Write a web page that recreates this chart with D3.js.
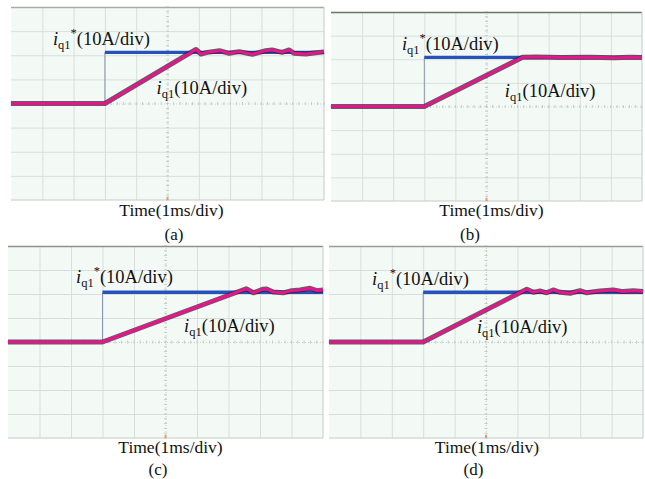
<!DOCTYPE html>
<html>
<head>
<meta charset="utf-8">
<script src="https://cdn.jsdelivr.net/npm/d3@7"></script>
<style>
  body { margin: 0; background: #fff; }
  svg text { font-family: "Liberation Serif", "Times New Roman", serif; fill: #111; }
</style>
</head>
<body>
<div id="chart"></div>
<script>
// scope screen: 10 x 8 divisions, 1 ms/div, 10 A/div (centre line = 0)
var captions = ["(a)", "(b)", "(c)", "(d)"];
var stepTimes = [3.0, 3.0, 3.0, 3.0];      // ms
var refLevels = [2.12, 2.08, 2.07, 2.07];   // div

var traceA = [[0, 0], [3.0, 0], [5.91, 2.24], [6.07, 2.05], [6.27, 2.12], [6.66, 2.19], [6.97, 2.08],
  [7.29, 2.15], [7.71, 2.04], [8.14, 2.19], [8.34, 2.22], [8.66, 2.12], [8.89, 2.22], [9.04, 2.08],
  [9.42, 2.05], [9.74, 2.10], [10, 2.14]];
var traceB = [[0, 0], [3.0, 0], [6.16, 2.08], [6.6, 2.09], [7.4, 2.07], [8.3, 2.08], [9.1, 2.06],
  [9.6, 2.08], [10, 2.07]];
var traceC = [[0, 0], [3.0, 0], [7.56, 2.22], [7.79, 2.05], [8.10, 2.20], [8.21, 2.21], [8.42, 2.08],
  [8.74, 2.05], [9.01, 2.14], [9.27, 2.17], [9.59, 2.24], [9.80, 2.14], [10, 2.17]];
var traceD = [[0, 0], [3.0, 0], [6.30, 2.20], [6.51, 2.07], [6.72, 2.13], [6.93, 2.05], [7.14, 2.17],
  [7.36, 2.07], [7.68, 2.03], [7.99, 2.14], [8.21, 2.05], [8.63, 2.13], [9.05, 2.17], [9.37, 2.10],
  [9.69, 2.14], [10, 2.10]];
var traces = [traceA, traceB, traceC, traceD];

// label anchors (time ms, div)
var refLabelPos = [[1.34, 2.42], [2.28, 2.39], [2.16, 2.46], [1.37, 2.38]];
var measLabelPos = [[4.65, 0.39], [5.59, 0.40], [5.59, 0.42], [4.71, 0.375]];

// page layout of the four screens
var boxes = [
  { x: 11, y: 7, w: 313, h: 193, tx: 171.5, ty: 216, cx: 174, cy: 240, top: "#a8aaa8" },
  { x: 331, y: 12, w: 311, h: 189, tx: 491.5, ty: 216, cx: 470, cy: 240, top: "#707270" },
  { x: 8, y: 246, w: 315, h: 192, tx: 170.5, ty: 453, cx: 158, cy: 475, top: "#8e908e" },
  { x: 329, y: 246, w: 314, h: 192, tx: 487, ty: 453, cx: 473.5, cy: 475, top: "#9a9c9a" }
];

var width = 645;
var height = 479;

var svg = d3.select("#chart")
  .append("svg")
  .attr("width", width)
  .attr("height", height);

boxes.forEach(function(b, i) {
  var g = svg.append("g").attr("transform", "translate(" + b.x + "," + b.y + ")");

  var x = d3.scaleLinear().domain([0, 10]).range([0, b.w]);
  var y = d3.scaleLinear().domain([-4, 4]).range([b.h, 0]);

  g.append("rect")
    .attr("width", b.w)
    .attr("height", b.h)
    .attr("fill", "#f3faf6");

  // grid through axes
  g.append("g")
    .attr("class", "grid")
    .attr("transform", "translate(0," + b.h + ")")
    .call(d3.axisBottom(x).tickValues(d3.range(1, 10)).tickSize(-b.h).tickFormat(""));
  g.append("g")
    .attr("class", "grid")
    .call(d3.axisLeft(y).tickValues(d3.range(-3, 4)).tickSize(-b.w).tickFormat(""));
  g.selectAll(".grid .domain").remove();
  g.selectAll(".grid line")
    .attr("stroke", "#d9dedb")
    .attr("stroke-width", 1);
  // centre lines dotted
  g.selectAll(".grid .tick")
    .filter(function(d) { return d === 5 || d === 0; })
    .select("line")
    .attr("stroke", "#c9cfcb")
    .attr("stroke-dasharray", "1,2");

  // small tick marks on centre lines
  g.append("g").selectAll("line")
    .data(d3.range(0, 10.01, 0.2))
    .enter().append("line")
    .attr("x1", function(d) { return x(d); })
    .attr("x2", function(d) { return x(d); })
    .attr("y1", y(0) - 1.5)
    .attr("y2", y(0) + 1.5)
    .attr("stroke", "#c5cbc7");
  g.append("g").selectAll("line")
    .data(d3.range(-4, 4.01, 0.2))
    .enter().append("line")
    .attr("x1", x(5) - 1.5)
    .attr("x2", x(5) + 1.5)
    .attr("y1", function(d) { return y(d); })
    .attr("y2", function(d) { return y(d); })
    .attr("stroke", "#c5cbc7");

  // borders
  g.append("line").attr("x1", 0).attr("x2", b.w).attr("y1", 0.5).attr("y2", 0.5)
    .attr("stroke", b.top).attr("stroke-width", 1.5);
  g.append("line").attr("x1", 0).attr("x2", b.w).attr("y1", b.h).attr("y2", b.h)
    .attr("stroke", "#c6cac7");
  g.append("line").attr("x1", b.w).attr("x2", b.w).attr("y1", 0).attr("y2", b.h)
    .attr("stroke", "#c6cac7");

  // trigger marker
  g.append("line").attr("x1", x(5)).attr("x2", x(5)).attr("y1", b.h - 3).attr("y2", b.h)
    .attr("stroke", "#e89a6a").attr("stroke-width", 2);

  // reference i_q1*
  var t0 = stepTimes[i], ref = refLevels[i];
  g.append("line")
    .attr("x1", x(t0)).attr("x2", x(t0))
    .attr("y1", y(0)).attr("y2", y(ref))
    .attr("stroke", "#8a96a8").attr("stroke-width", 1);
  g.append("line")
    .attr("x1", x(t0)).attr("x2", x(10))
    .attr("y1", y(ref)).attr("y2", y(ref))
    .attr("stroke", "#2652bc").attr("stroke-width", 3.4);

  // measured i_q1
  var line = d3.line()
    .x(function(d) { return x(d[0]); })
    .y(function(d) { return y(d[1]); });
  g.append("path")
    .datum(traces[i])
    .attr("d", line)
    .attr("fill", "none")
    .attr("stroke", "#2a1a26")
    .attr("stroke-opacity", 0.7)
    .attr("stroke-width", 5)
    .attr("stroke-linejoin", "round");
  g.append("path")
    .datum(traces[i])
    .attr("d", line)
    .attr("fill", "none")
    .attr("stroke", "#e5168c")
    .attr("stroke-width", 3)
    .attr("stroke-linejoin", "round");

  // labels
  var l1 = g.append("text")
    .attr("x", x(refLabelPos[i][0]))
    .attr("y", y(refLabelPos[i][1]))
    .style("font-size", "18.5px");
  l1.append("tspan").style("font-style", "italic").text("i");
  l1.append("tspan").style("font-size", "12.5px").attr("dy", 4).text("q1");
  l1.append("tspan").style("font-size", "12.5px").attr("dy", -12).text("*");
  l1.append("tspan").attr("dy", 8).text("(10A/div)");

  var l2 = g.append("text")
    .attr("x", x(measLabelPos[i][0]))
    .attr("y", y(measLabelPos[i][1]))
    .style("font-size", "18.5px");
  l2.append("tspan").style("font-style", "italic").text("i");
  l2.append("tspan").style("font-size", "12.5px").attr("dy", 4).text("q1");
  l2.append("tspan").attr("dy", -4).text("(10A/div)");

  svg.append("text")
    .attr("x", b.tx)
    .attr("y", b.ty)
    .attr("text-anchor", "middle")
    .style("font-size", "17.5px")
    .text("Time(1ms/div)");
  svg.append("text")
    .attr("x", b.cx)
    .attr("y", b.cy)
    .attr("text-anchor", "middle")
    .style("font-size", "17px")
    .text(captions[i]);
});
</script>
</body>
</html>
